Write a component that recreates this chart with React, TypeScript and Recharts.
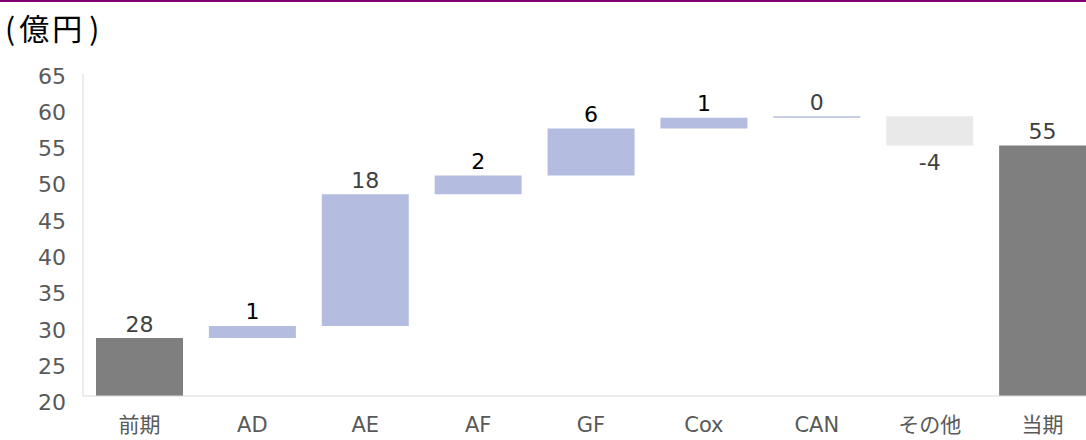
import { BarChart, Bar, XAxis, YAxis, Cell, LabelList } from "recharts";

const categories = ["前期", "AD", "AE", "AF", "GF", "Cox", "CAN", "その他", "当期"];
// change per step (first and last are totals)
const steps = [28.1, 1.7, 18.4, 2.6, 6.6, 1.5, 0.2, -4.1, 55.0];
const kinds = ["total", "up", "up", "up", "up", "up", "up", "down", "total"];
const valueLabels = ["28", "1", "18", "2", "6", "1", "0", "-4", "55"];
const yTicks = [20, 25, 30, 35, 40, 45, 50, 55, 60, 65];

const colors: Record<string, string> = {
  total: "#7f7f7f",
  up: "#b4bddf",
  down: "#e9e9e9",
};
const labelColors = ["#404040", "#000", "#404040", "#000", "#000", "#000", "#404040", "#404040", "#404040"];

const font = '"DejaVu Sans", "Noto Sans CJK JP", sans-serif';

// build floating ranges
let running = 0;
const data = categories.map((name, i) => {
  let range: [number, number];
  if (kinds[i] === "total") {
    range = [0, steps[i]];
    running = steps[i];
  } else {
    const next = running + steps[i];
    range = [Math.min(running, next), Math.max(running, next)];
    running = next;
  }
  return { name, range, kind: kinds[i] };
});

const renderLabel = (props: any) => {
  const { x, y, width, height, index } = props;
  const neg = steps[index] < 0;
  const cx = x + width / 2;
  const ty = neg ? y + height + 17 : y - 14;
  return (
    <text
      x={cx}
      y={ty}
      textAnchor="middle"
      dominantBaseline="central"
      fontSize={22}
      fontFamily={font}
      fill={labelColors[index]}
    >
      {valueLabels[index]}
    </text>
  );
};

// excel spreads the tick labels a bit more than the gridline spacing
const YTick = (props: any) => {
  const { x, y, payload } = props;
  const dy = 2 + (65 - payload.value) * 0.11;
  return (
    <text
      x={x}
      y={y + dy}
      textAnchor="end"
      dominantBaseline="central"
      fontSize={22}
      fontFamily={font}
      fill="#595959"
    >
      {payload.value}
    </text>
  );
};

export default function App() {
  return (
    <div
      style={{
        position: "absolute",
        left: 0,
        top: 0,
        width: 1086,
        height: 440,
        overflow: "hidden",
        background: "#fff",
        fontFamily: font,
      }}
    >
      <div style={{ position: "absolute", left: 0, top: 0, width: 1086, height: 2, background: "#800070" }} />
      <div
        style={{
          position: "absolute",
          left: 5,
          top: 7,
          fontSize: 30,
          lineHeight: "40px",
          color: "#000",
          whiteSpace: "nowrap",
          fontFamily: '"Noto Sans CJK JP", sans-serif',
        }}
      >
        <span>(</span>
        <span style={{ margin: "0 4px", letterSpacing: 3 }}>億円</span>
        <span>)</span>
      </div>
      <div style={{ position: "absolute", left: 0, top: 0 }}>
        <BarChart
          width={1100}
          height={440}
          data={data}
          margin={{ top: 74, right: 1, bottom: 0, left: 0 }}
          barCategoryGap={13}
        >
          <XAxis
            dataKey="name"
            tickLine={false}
            tickSize={0}
            tickMargin={21}
            height={44}
            stroke="#d9d9d9"
            tick={{ fill: "#595959", fontSize: 21, fontFamily: font }}
            interval={0}
          />
          <YAxis
            type="number"
            domain={[20, 65]}
            ticks={yTicks}
            allowDataOverflow
            width={83}
            tickLine={false}
            tickSize={0}
            tickMargin={17}
            stroke="#d9d9d9"
            tick={<YTick />}
          />
          <Bar dataKey="range" isAnimationActive={false}>
            {data.map((d, i) => (
              <Cell key={i} fill={colors[d.kind]} />
            ))}
            <LabelList dataKey="range" content={renderLabel} />
          </Bar>
        </BarChart>
      </div>
    </div>
  );
}
